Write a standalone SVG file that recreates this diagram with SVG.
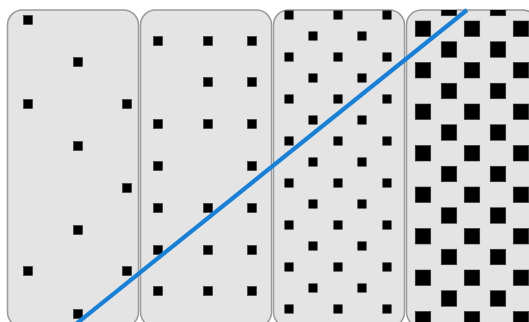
<svg xmlns="http://www.w3.org/2000/svg" width="529" height="322" viewBox="0 0 529 322">
<style>
.panel{fill:#e4e4e4;stroke:#9a9a9a;stroke-width:1.5}
.s1{fill:#000;stroke:#333;stroke-width:0.6}
.line{stroke:#1a80d6;stroke-width:4.2;fill:none;stroke-linecap:butt}
</style>
<defs>
<clipPath id="c4"><rect x="406.5" y="10" width="131" height="317" rx="15"/></clipPath>
<clipPath id="c3"><rect x="273.5" y="10" width="131" height="317" rx="15"/></clipPath>
</defs>
<rect width="529" height="322" fill="#fff"/>
<g id="panel1">
<rect class="panel" x="7.5" y="10" width="131" height="317" rx="15"/>
<g class="s1">
<rect x="23.5" y="15.5" width="9" height="9"/>
<rect x="73.5" y="57.5" width="9" height="9"/>
<rect x="23.5" y="99.5" width="9" height="9"/>
<rect x="122.5" y="99.5" width="9" height="9"/>
<rect x="73.5" y="141.5" width="9" height="9"/>
<rect x="122.5" y="183.5" width="9" height="9"/>
<rect x="73.5" y="225.5" width="9" height="9"/>
<rect x="23.5" y="266.5" width="9" height="9"/>
<rect x="122.5" y="266.5" width="9" height="9"/>
<rect x="73.5" y="309.5" width="9" height="9"/>
</g>
</g>
<g id="panel2">
<rect class="panel" x="140.5" y="10" width="131" height="317" rx="15"/>
<g class="s1">
<rect x="153.5" y="36.5" width="9" height="9"/>
<rect x="203.5" y="36.5" width="9" height="9"/>
<rect x="247.5" y="36.5" width="9" height="9"/>
<rect x="203.5" y="77.5" width="9" height="9"/>
<rect x="247.5" y="77.5" width="9" height="9"/>
<rect x="153.5" y="119.5" width="9" height="9"/>
<rect x="203.5" y="119.5" width="9" height="9"/>
<rect x="247.5" y="119.5" width="9" height="9"/>
<rect x="153.5" y="161.5" width="9" height="9"/>
<rect x="247.5" y="161.5" width="9" height="9"/>
<rect x="153.5" y="203.5" width="9" height="9"/>
<rect x="203.5" y="203.5" width="9" height="9"/>
<rect x="247.5" y="203.5" width="9" height="9"/>
<rect x="153.5" y="245.5" width="9" height="9"/>
<rect x="203.5" y="245.5" width="9" height="9"/>
<rect x="247.5" y="245.5" width="9" height="9"/>
<rect x="153.5" y="286.5" width="9" height="9"/>
<rect x="203.5" y="286.5" width="9" height="9"/>
<rect x="247.5" y="286.5" width="9" height="9"/>
</g>
</g>
<g id="panel3">
<rect class="panel" x="273.5" y="10" width="131" height="317" rx="15"/>
<g class="s1" clip-path="url(#c3)">
<rect x="284.75" y="10.75" width="8.5" height="8.5"/><rect x="333.75" y="10.75" width="8.5" height="8.5"/><rect x="382.75" y="10.75" width="8.5" height="8.5"/>
<rect x="308.75" y="31.75" width="8.5" height="8.5"/><rect x="357.75" y="31.75" width="8.5" height="8.5"/>
<rect x="284.75" y="52.75" width="8.5" height="8.5"/><rect x="333.75" y="52.75" width="8.5" height="8.5"/><rect x="382.75" y="52.75" width="8.5" height="8.5"/>
<rect x="308.75" y="73.75" width="8.5" height="8.5"/><rect x="357.75" y="73.75" width="8.5" height="8.5"/>
<rect x="284.75" y="94.75" width="8.5" height="8.5"/><rect x="333.75" y="94.75" width="8.5" height="8.5"/><rect x="382.75" y="94.75" width="8.5" height="8.5"/>
<rect x="308.75" y="115.75" width="8.5" height="8.5"/><rect x="357.75" y="115.75" width="8.5" height="8.5"/>
<rect x="284.75" y="136.75" width="8.5" height="8.5"/><rect x="333.75" y="136.75" width="8.5" height="8.5"/><rect x="382.75" y="136.75" width="8.5" height="8.5"/>
<rect x="308.75" y="157.75" width="8.5" height="8.5"/><rect x="357.75" y="157.75" width="8.5" height="8.5"/>
<rect x="284.75" y="178.75" width="8.5" height="8.5"/><rect x="333.75" y="178.75" width="8.5" height="8.5"/><rect x="382.75" y="178.75" width="8.5" height="8.5"/>
<rect x="308.75" y="199.75" width="8.5" height="8.5"/><rect x="357.75" y="199.75" width="8.5" height="8.5"/>
<rect x="284.75" y="220.75" width="8.5" height="8.5"/><rect x="333.75" y="220.75" width="8.5" height="8.5"/><rect x="382.75" y="220.75" width="8.5" height="8.5"/>
<rect x="308.75" y="241.75" width="8.5" height="8.5"/><rect x="357.75" y="241.75" width="8.5" height="8.5"/>
<rect x="284.75" y="262.75" width="8.5" height="8.5"/><rect x="333.75" y="262.75" width="8.5" height="8.5"/><rect x="382.75" y="262.75" width="8.5" height="8.5"/>
<rect x="308.75" y="283.75" width="8.5" height="8.5"/><rect x="357.75" y="283.75" width="8.5" height="8.5"/>
<rect x="284.75" y="304.75" width="8.5" height="8.5"/><rect x="333.75" y="304.75" width="8.5" height="8.5"/><rect x="382.75" y="304.75" width="8.5" height="8.5"/>
</g>
</g>
<g id="panel4">
<rect class="panel" x="406.5" y="10" width="131" height="317" rx="15"/>
<g class="s1" clip-path="url(#c4)">
<rect x="441.25" y="0.25" width="15.5" height="15.5"/><rect x="490.25" y="0.25" width="15.5" height="15.5"/>
<rect x="415.25" y="21" width="15.5" height="15.5"/><rect x="464.25" y="21" width="15.5" height="15.5"/><rect x="513.25" y="21" width="15.5" height="15.5"/>
<rect x="441.25" y="41.75" width="15.5" height="15.5"/><rect x="490.25" y="41.75" width="15.5" height="15.5"/>
<rect x="415.25" y="62.5" width="15.5" height="15.5"/><rect x="464.25" y="62.5" width="15.5" height="15.5"/><rect x="513.25" y="62.5" width="15.5" height="15.5"/>
<rect x="441.25" y="83.25" width="15.5" height="15.5"/><rect x="490.25" y="83.25" width="15.5" height="15.5"/>
<rect x="415.25" y="104" width="15.5" height="15.5"/><rect x="464.25" y="104" width="15.5" height="15.5"/><rect x="513.25" y="104" width="15.5" height="15.5"/>
<rect x="441.25" y="124.75" width="15.5" height="15.5"/><rect x="490.25" y="124.75" width="15.5" height="15.5"/>
<rect x="415.25" y="145.5" width="15.5" height="15.5"/><rect x="464.25" y="145.5" width="15.5" height="15.5"/><rect x="513.25" y="145.5" width="15.5" height="15.5"/>
<rect x="441.25" y="166.25" width="15.5" height="15.5"/><rect x="490.25" y="166.25" width="15.5" height="15.5"/>
<rect x="415.25" y="187" width="15.5" height="15.5"/><rect x="464.25" y="187" width="15.5" height="15.5"/><rect x="513.25" y="187" width="15.5" height="15.5"/>
<rect x="441.25" y="207.75" width="15.5" height="15.5"/><rect x="490.25" y="207.75" width="15.5" height="15.5"/>
<rect x="415.25" y="228.5" width="15.5" height="15.5"/><rect x="464.25" y="228.5" width="15.5" height="15.5"/><rect x="513.25" y="228.5" width="15.5" height="15.5"/>
<rect x="441.25" y="249.25" width="15.5" height="15.5"/><rect x="490.25" y="249.25" width="15.5" height="15.5"/>
<rect x="415.25" y="270" width="15.5" height="15.5"/><rect x="464.25" y="270" width="15.5" height="15.5"/><rect x="513.25" y="270" width="15.5" height="15.5"/>
<rect x="441.25" y="290.75" width="15.5" height="15.5"/><rect x="490.25" y="290.75" width="15.5" height="15.5"/>
<rect x="415.25" y="311.5" width="15.5" height="15.5"/><rect x="464.25" y="311.5" width="15.5" height="15.5"/><rect x="513.25" y="311.5" width="15.5" height="15.5"/>
</g>
</g>
<g id="connectors">
<line class="line" x1="76" y1="324" x2="467" y2="10"/>
</g>
</svg>
